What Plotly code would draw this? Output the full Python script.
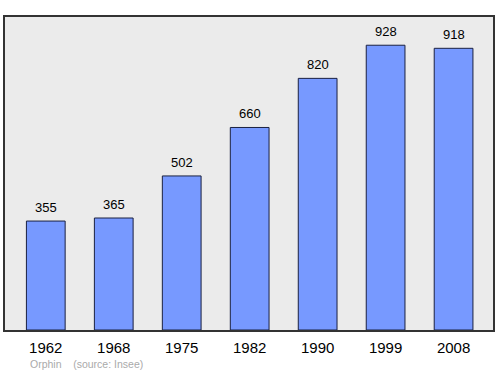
import plotly.graph_objects as go

years = ["1962", "1968", "1975", "1982", "1990", "1999", "2008"]
population = [355, 365, 502, 660, 820, 928, 918]

fig = go.Figure()
fig.add_trace(go.Bar(
    x=years, y=population,
    width=0.57,
    marker=dict(color="#7799ff", line=dict(color="#1a2040", width=1)),
    hoverinfo="skip",
))

for i, v in enumerate(population):
    fig.add_annotation(x=i, y=v, text=str(v), showarrow=False,
                       yanchor="bottom", yshift=4,
                       font=dict(family="Liberation Sans, Arial, sans-serif", size=13, color="#000"))

fig.add_annotation(xref="paper", yref="paper", x=0.048, y=-0.082,
                   text="Orphin&nbsp;&nbsp;&nbsp;&nbsp;(source: Insee)", showarrow=False,
                   xanchor="left", yanchor="top",
                   font=dict(family="Liberation Sans, Arial, sans-serif", size=10.5, color="#aaaaaa"))

fig.update_layout(
    width=500, height=374,
    margin=dict(l=5, r=5, t=17, b=44),
    paper_bgcolor="white",
    plot_bgcolor="#ebebeb",
    showlegend=False,
    xaxis=dict(type="category", range=[-0.6, 6.58], showgrid=False, showline=True, mirror=True,
               linecolor="#333333", linewidth=1.5, ticks="", ticklen=0, ticklabelstandoff=3,
               tickfont=dict(family="Liberation Sans, Arial, sans-serif", size=15, color="#000")),
    yaxis=dict(range=[0, 1020], showgrid=False, showline=True, mirror=True,
               linecolor="#333333", linewidth=1.5, showticklabels=False, ticks="",
               zeroline=False),
)

fig.write_html("out.html")
